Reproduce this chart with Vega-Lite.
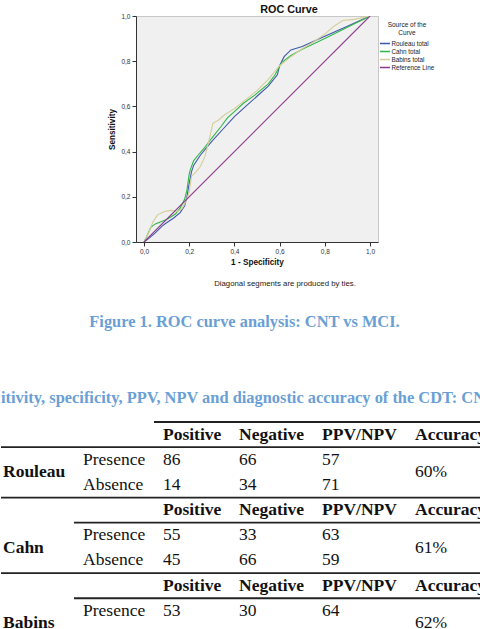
{
  "$schema": "https://vega.github.io/schema/vega-lite/v6.json",
  "padding": 0,
  "spacing": 0,
  "bounds": "full",
  "resolve": {"scale": {"color": "independent"}, "legend": {"color": "independent"}},
  "config": {"view": {"stroke": null}, "font": "Liberation Sans"},
  "datasets": {
    "roc": [
      {"curve": "Rouleau total", "fpr": 0, "tpr": 0},
      {"curve": "Rouleau total", "fpr": 0.02, "tpr": 0.015},
      {"curve": "Rouleau total", "fpr": 0.05, "tpr": 0.04},
      {"curve": "Rouleau total", "fpr": 0.08, "tpr": 0.07},
      {"curve": "Rouleau total", "fpr": 0.1, "tpr": 0.085},
      {"curve": "Rouleau total", "fpr": 0.13, "tpr": 0.105},
      {"curve": "Rouleau total", "fpr": 0.16, "tpr": 0.13},
      {"curve": "Rouleau total", "fpr": 0.18, "tpr": 0.16},
      {"curve": "Rouleau total", "fpr": 0.19, "tpr": 0.2},
      {"curve": "Rouleau total", "fpr": 0.2, "tpr": 0.26},
      {"curve": "Rouleau total", "fpr": 0.21, "tpr": 0.31},
      {"curve": "Rouleau total", "fpr": 0.22, "tpr": 0.34},
      {"curve": "Rouleau total", "fpr": 0.25, "tpr": 0.385},
      {"curve": "Rouleau total", "fpr": 0.3, "tpr": 0.445},
      {"curve": "Rouleau total", "fpr": 0.35, "tpr": 0.5},
      {"curve": "Rouleau total", "fpr": 0.4, "tpr": 0.555},
      {"curve": "Rouleau total", "fpr": 0.45, "tpr": 0.6},
      {"curve": "Rouleau total", "fpr": 0.5, "tpr": 0.645},
      {"curve": "Rouleau total", "fpr": 0.55, "tpr": 0.69},
      {"curve": "Rouleau total", "fpr": 0.59, "tpr": 0.74},
      {"curve": "Rouleau total", "fpr": 0.6, "tpr": 0.78},
      {"curve": "Rouleau total", "fpr": 0.62, "tpr": 0.82},
      {"curve": "Rouleau total", "fpr": 0.65, "tpr": 0.85},
      {"curve": "Rouleau total", "fpr": 0.7, "tpr": 0.865},
      {"curve": "Rouleau total", "fpr": 0.8, "tpr": 0.91},
      {"curve": "Rouleau total", "fpr": 0.9, "tpr": 0.955},
      {"curve": "Rouleau total", "fpr": 1, "tpr": 1},
      {"curve": "Cahn total", "fpr": 0, "tpr": 0},
      {"curve": "Cahn total", "fpr": 0.01, "tpr": 0.02},
      {"curve": "Cahn total", "fpr": 0.03, "tpr": 0.065},
      {"curve": "Cahn total", "fpr": 0.05, "tpr": 0.08},
      {"curve": "Cahn total", "fpr": 0.075, "tpr": 0.09},
      {"curve": "Cahn total", "fpr": 0.1, "tpr": 0.1},
      {"curve": "Cahn total", "fpr": 0.12, "tpr": 0.112},
      {"curve": "Cahn total", "fpr": 0.14, "tpr": 0.125},
      {"curve": "Cahn total", "fpr": 0.16, "tpr": 0.15},
      {"curve": "Cahn total", "fpr": 0.18, "tpr": 0.19},
      {"curve": "Cahn total", "fpr": 0.19, "tpr": 0.23},
      {"curve": "Cahn total", "fpr": 0.2, "tpr": 0.3},
      {"curve": "Cahn total", "fpr": 0.205, "tpr": 0.32},
      {"curve": "Cahn total", "fpr": 0.22, "tpr": 0.36},
      {"curve": "Cahn total", "fpr": 0.24, "tpr": 0.385},
      {"curve": "Cahn total", "fpr": 0.27, "tpr": 0.42},
      {"curve": "Cahn total", "fpr": 0.3, "tpr": 0.46},
      {"curve": "Cahn total", "fpr": 0.34, "tpr": 0.51},
      {"curve": "Cahn total", "fpr": 0.37, "tpr": 0.55},
      {"curve": "Cahn total", "fpr": 0.4, "tpr": 0.577},
      {"curve": "Cahn total", "fpr": 0.44, "tpr": 0.614},
      {"curve": "Cahn total", "fpr": 0.49, "tpr": 0.65},
      {"curve": "Cahn total", "fpr": 0.55, "tpr": 0.7},
      {"curve": "Cahn total", "fpr": 0.58, "tpr": 0.74},
      {"curve": "Cahn total", "fpr": 0.61, "tpr": 0.795},
      {"curve": "Cahn total", "fpr": 0.65, "tpr": 0.825},
      {"curve": "Cahn total", "fpr": 0.7, "tpr": 0.853},
      {"curve": "Cahn total", "fpr": 0.8, "tpr": 0.9},
      {"curve": "Cahn total", "fpr": 0.9, "tpr": 0.95},
      {"curve": "Cahn total", "fpr": 1, "tpr": 1},
      {"curve": "Babins total", "fpr": 0, "tpr": 0},
      {"curve": "Babins total", "fpr": 0.02, "tpr": 0.04},
      {"curve": "Babins total", "fpr": 0.04, "tpr": 0.09},
      {"curve": "Babins total", "fpr": 0.06, "tpr": 0.12},
      {"curve": "Babins total", "fpr": 0.09, "tpr": 0.135},
      {"curve": "Babins total", "fpr": 0.12, "tpr": 0.14},
      {"curve": "Babins total", "fpr": 0.15, "tpr": 0.135},
      {"curve": "Babins total", "fpr": 0.17, "tpr": 0.15},
      {"curve": "Babins total", "fpr": 0.185, "tpr": 0.18},
      {"curve": "Babins total", "fpr": 0.2, "tpr": 0.22},
      {"curve": "Babins total", "fpr": 0.21, "tpr": 0.29},
      {"curve": "Babins total", "fpr": 0.23, "tpr": 0.31},
      {"curve": "Babins total", "fpr": 0.25, "tpr": 0.335},
      {"curve": "Babins total", "fpr": 0.27, "tpr": 0.38},
      {"curve": "Babins total", "fpr": 0.29, "tpr": 0.46},
      {"curve": "Babins total", "fpr": 0.305, "tpr": 0.525},
      {"curve": "Babins total", "fpr": 0.33, "tpr": 0.54},
      {"curve": "Babins total", "fpr": 0.36, "tpr": 0.565},
      {"curve": "Babins total", "fpr": 0.4, "tpr": 0.59},
      {"curve": "Babins total", "fpr": 0.45, "tpr": 0.63},
      {"curve": "Babins total", "fpr": 0.5, "tpr": 0.67},
      {"curve": "Babins total", "fpr": 0.55, "tpr": 0.72},
      {"curve": "Babins total", "fpr": 0.6, "tpr": 0.78},
      {"curve": "Babins total", "fpr": 0.65, "tpr": 0.82},
      {"curve": "Babins total", "fpr": 0.7, "tpr": 0.855},
      {"curve": "Babins total", "fpr": 0.75, "tpr": 0.885},
      {"curve": "Babins total", "fpr": 0.8, "tpr": 0.92},
      {"curve": "Babins total", "fpr": 0.84, "tpr": 0.955},
      {"curve": "Babins total", "fpr": 0.88, "tpr": 0.98},
      {"curve": "Babins total", "fpr": 0.93, "tpr": 0.985},
      {"curve": "Babins total", "fpr": 1, "tpr": 1},
      {"curve": "Reference Line", "fpr": 0, "tpr": 0},
      {"curve": "Reference Line", "fpr": 1, "tpr": 1}
    ],
    "cells": [
      {"r": "H1", "c": "Positive", "t": "Positive", "b": true},
      {"r": "H1", "c": "Negative", "t": "Negative", "b": true},
      {"r": "H1", "c": "PPV/NPV", "t": "PPV/NPV", "b": true},
      {"r": "H1", "c": "Accuracy", "t": "Accuracy", "b": true},
      {"r": "M1", "c": "section", "t": "Rouleau", "b": true},
      {"r": "P1", "c": "label", "t": "Presence", "b": false},
      {"r": "P1", "c": "Positive", "t": "86", "b": false},
      {"r": "P1", "c": "Negative", "t": "66", "b": false},
      {"r": "P1", "c": "PPV/NPV", "t": "57", "b": false},
      {"r": "A1", "c": "label", "t": "Absence", "b": false},
      {"r": "A1", "c": "Positive", "t": "14", "b": false},
      {"r": "A1", "c": "Negative", "t": "34", "b": false},
      {"r": "A1", "c": "PPV/NPV", "t": "71", "b": false},
      {"r": "M1", "c": "Accuracy", "t": "60%", "b": false},
      {"r": "H2", "c": "Positive", "t": "Positive", "b": true},
      {"r": "H2", "c": "Negative", "t": "Negative", "b": true},
      {"r": "H2", "c": "PPV/NPV", "t": "PPV/NPV", "b": true},
      {"r": "H2", "c": "Accuracy", "t": "Accuracy", "b": true},
      {"r": "M2", "c": "section", "t": "Cahn", "b": true},
      {"r": "P2", "c": "label", "t": "Presence", "b": false},
      {"r": "P2", "c": "Positive", "t": "55", "b": false},
      {"r": "P2", "c": "Negative", "t": "33", "b": false},
      {"r": "P2", "c": "PPV/NPV", "t": "63", "b": false},
      {"r": "A2", "c": "label", "t": "Absence", "b": false},
      {"r": "A2", "c": "Positive", "t": "45", "b": false},
      {"r": "A2", "c": "Negative", "t": "66", "b": false},
      {"r": "A2", "c": "PPV/NPV", "t": "59", "b": false},
      {"r": "M2", "c": "Accuracy", "t": "61%", "b": false},
      {"r": "H3", "c": "Positive", "t": "Positive", "b": true},
      {"r": "H3", "c": "Negative", "t": "Negative", "b": true},
      {"r": "H3", "c": "PPV/NPV", "t": "PPV/NPV", "b": true},
      {"r": "H3", "c": "Accuracy", "t": "Accuracy", "b": true},
      {"r": "M3", "c": "section", "t": "Babins", "b": true},
      {"r": "P3", "c": "label", "t": "Presence", "b": false},
      {"r": "P3", "c": "Positive", "t": "53", "b": false},
      {"r": "P3", "c": "Negative", "t": "30", "b": false},
      {"r": "P3", "c": "PPV/NPV", "t": "64", "b": false},
      {"r": "A3", "c": "label", "t": "Absence", "b": false},
      {"r": "A3", "c": "Positive", "t": "47", "b": false},
      {"r": "A3", "c": "Negative", "t": "70", "b": false},
      {"r": "A3", "c": "PPV/NPV", "t": "60", "b": false},
      {"r": "M3", "c": "Accuracy", "t": "62%", "b": false}
    ],
    "rules": [
      {"r": "T0", "start": 2},
      {"r": "L1", "start": 0},
      {"r": "T1", "start": 0},
      {"r": "L2", "start": 1},
      {"r": "T2", "start": 0},
      {"r": "L3", "start": 1}
    ]
  },
  "vconcat": [
    {"width": 480, "height": 3, "data": {"values": []}, "mark": "point"},
    {
      "hconcat": [
        {"width": 135, "height": 226, "data": {"values": []}, "mark": "point"},
        {
          "width": 242,
          "height": 226,
          "view": {"fill": "#f0f0f0", "stroke": "#c8c8c8"},
          "title": {"text": "ROC Curve", "font": "Liberation Sans", "fontSize": 10.8, "fontWeight": "bold", "color": "#111111", "anchor": "middle", "frame": "group", "dx": 32, "offset": -2},
          "data": {"name": "roc"},
          "mark": {"type": "line", "strokeWidth": 1.1, "clip": true},
          "encoding": {
            "x": {
              "field": "fpr", "type": "quantitative",
              "scale": {"domain": [-0.0354, 1.0354], "nice": false, "zero": false},
              "axis": {"values": [0, 0.2, 0.4, 0.6, 0.8, 1], "labelExpr": "replace(format(datum.value, '.1f'), '.', ',')", "title": "1 - Specificity", "grid": false, "domainColor": "#333333", "tickColor": "#333333", "tickSize": 4, "labelFontSize": 6.5, "labelColor": "#333333", "labelPadding": 2, "titleFontSize": 8.2, "titleFontWeight": "bold", "titleColor": "#111111", "titlePadding": 4}
            },
            "y": {
              "field": "tpr", "type": "quantitative",
              "scale": {"domain": [0, 1], "nice": false, "zero": false},
              "axis": {"values": [0, 0.2, 0.4, 0.6, 0.8, 1], "labelExpr": "replace(format(datum.value, '.1f'), '.', ',')", "title": "Sensitivity", "grid": false, "domainColor": "#333333", "tickColor": "#333333", "tickSize": 4, "labelFontSize": 6.5, "labelColor": "#333333", "labelPadding": 2, "titleFontSize": 8.2, "titleFontWeight": "bold", "titleColor": "#111111", "titlePadding": 4}
            },
            "color": {
              "field": "curve", "type": "nominal",
              "scale": {"domain": ["Rouleau total", "Cahn total", "Babins total", "Reference Line"], "range": ["#3e58ac", "#2eb848", "#d3ce97", "#8a3a8c"]},
              "legend": {"title": ["Source of the", "Curve"], "orient": "right", "offset": -5, "padding": 6, "titleFontSize": 6.5, "titleFontWeight": "normal", "titleColor": "#222222", "titleAlign": "center", "titleAnchor": "middle", "titleLineHeight": 8, "titlePadding": 3, "labelFontSize": 6.3, "labelColor": "#222222", "labelOffset": 0.5, "symbolType": "stroke", "symbolSize": 100, "symbolStrokeWidth": 1.3, "clipHeight": 8, "rowPadding": 0}
            }
          }
        },
        {"width": 103, "height": 226, "data": {"values": []}, "mark": "point"}
      ],
      "spacing": 0,
      "bounds": "flush",
      "resolve": {"scale": {"color": "independent"}, "legend": {"color": "independent"}}
    },
    {
      "width": 480, "height": 34,
      "data": {"values": [{"t": "Diagonal segments are produced by ties."}]},
      "mark": {"type": "text", "font": "Liberation Sans", "fontSize": 7.8, "color": "#222222", "dx": 44},
      "encoding": {"text": {"field": "t", "type": "nominal"}}
    },
    {
      "width": 480, "height": 42,
      "data": {"values": [{"t": "Figure 1. ROC curve analysis: CNT vs MCI."}]},
      "mark": {"type": "text", "font": "Liberation Serif", "fontSize": 16.4, "fontWeight": "bold", "color": "#6a9fd6", "dx": 3.5},
      "encoding": {"text": {"field": "t", "type": "nominal"}}
    },
    {"width": 480, "height": 43, "data": {"values": []}, "mark": "point"},
    {
      "width": 480, "height": 24,
      "data": {"values": [{"t": "itivity, specificity, PPV, NPV and diagnostic accuracy of the CDT: CN"}]},
      "mark": {"type": "text", "font": "Liberation Serif", "fontSize": 16.4, "fontWeight": "bold", "color": "#6a9fd6", "dx": 2, "clip": true},
      "encoding": {"text": {"field": "t", "type": "nominal"}}
    },
    {
      "hconcat": [
        {
          "width": 73, "height": 220,
          "layer": [
            {"data": {"name": "rules"}, "transform": [{"filter": "datum.start <= 0"}], "mark": {"type": "rule", "strokeWidth": 1.8, "color": "#222222"}, "encoding": {"y": {"field": "r", "type": "nominal", "axis": null, "scale": {"type": "point", "domain": ["T0","H1","L1","P1","M1","A1","T1","H2","L2","P2","M2","A2","T2","H3","L3","P3","M3","A3"], "range": [12, 226], "padding": 0}}}},
            {"data": {"name": "cells"}, "transform": [{"filter": "datum.c === 'section' && datum.b"}], "mark": {"type": "text", "align": "left", "dx": 2, "font": "Liberation Serif", "fontSize": 17.5, "fontWeight": "bold", "color": "#111111", "clip": true}, "encoding": {"x": {"field": "c", "type": "nominal", "axis": null, "scale": {"type": "band", "paddingInner": 0, "paddingOuter": 0}, "bandPosition": 0}, "y": {"field": "r", "type": "nominal", "axis": null, "scale": {"type": "point", "domain": ["T0","H1","L1","P1","M1","A1","T1","H2","L2","P2","M2","A2","T2","H3","L3","P3","M3","A3"], "range": [12, 226], "padding": 0}}, "text": {"field": "t", "type": "nominal"}}}
          ]
        },
        {
          "width": 80, "height": 220,
          "layer": [
            {"data": {"name": "rules"}, "transform": [{"filter": "datum.start <= 1"}], "mark": {"type": "rule", "strokeWidth": 1.8, "color": "#222222"}, "encoding": {"y": {"field": "r", "type": "nominal", "axis": null, "scale": {"type": "point", "domain": ["T0","H1","L1","P1","M1","A1","T1","H2","L2","P2","M2","A2","T2","H3","L3","P3","M3","A3"], "range": [12, 226], "padding": 0}}}},
            {"data": {"name": "cells"}, "transform": [{"filter": "datum.c === 'label' && !datum.b"}], "mark": {"type": "text", "align": "left", "dx": 9, "font": "Liberation Serif", "fontSize": 17.5, "color": "#111111", "clip": true}, "encoding": {"x": {"field": "c", "type": "nominal", "axis": null, "scale": {"type": "band", "paddingInner": 0, "paddingOuter": 0}, "bandPosition": 0}, "y": {"field": "r", "type": "nominal", "axis": null, "scale": {"type": "point", "domain": ["T0","H1","L1","P1","M1","A1","T1","H2","L2","P2","M2","A2","T2","H3","L3","P3","M3","A3"], "range": [12, 226], "padding": 0}}, "text": {"field": "t", "type": "nominal"}}}
          ]
        },
        {
          "width": 76, "height": 220,
          "layer": [
            {"data": {"name": "rules"}, "transform": [{"filter": "datum.start <= 2"}], "mark": {"type": "rule", "strokeWidth": 1.8, "color": "#222222"}, "encoding": {"y": {"field": "r", "type": "nominal", "axis": null, "scale": {"type": "point", "domain": ["T0","H1","L1","P1","M1","A1","T1","H2","L2","P2","M2","A2","T2","H3","L3","P3","M3","A3"], "range": [12, 226], "padding": 0}}}},
            {"data": {"name": "cells"}, "transform": [{"filter": "datum.c === 'Positive' && !datum.b"}], "mark": {"type": "text", "align": "left", "dx": 9, "font": "Liberation Serif", "fontSize": 17.5, "color": "#111111", "clip": true}, "encoding": {"x": {"field": "c", "type": "nominal", "axis": null, "scale": {"type": "band", "paddingInner": 0, "paddingOuter": 0}, "bandPosition": 0}, "y": {"field": "r", "type": "nominal", "axis": null, "scale": {"type": "point", "domain": ["T0","H1","L1","P1","M1","A1","T1","H2","L2","P2","M2","A2","T2","H3","L3","P3","M3","A3"], "range": [12, 226], "padding": 0}}, "text": {"field": "t", "type": "nominal"}}},
            {"data": {"name": "cells"}, "transform": [{"filter": "datum.c === 'Positive' && datum.b"}], "mark": {"type": "text", "align": "left", "dx": 9, "font": "Liberation Serif", "fontSize": 17.5, "fontWeight": "bold", "color": "#111111", "clip": true}, "encoding": {"x": {"field": "c", "type": "nominal", "axis": null, "scale": {"type": "band", "paddingInner": 0, "paddingOuter": 0}, "bandPosition": 0}, "y": {"field": "r", "type": "nominal", "axis": null, "scale": {"type": "point", "domain": ["T0","H1","L1","P1","M1","A1","T1","H2","L2","P2","M2","A2","T2","H3","L3","P3","M3","A3"], "range": [12, 226], "padding": 0}}, "text": {"field": "t", "type": "nominal"}}}
          ]
        },
        {
          "width": 83, "height": 220,
          "layer": [
            {"data": {"name": "rules"}, "transform": [{"filter": "datum.start <= 3"}], "mark": {"type": "rule", "strokeWidth": 1.8, "color": "#222222"}, "encoding": {"y": {"field": "r", "type": "nominal", "axis": null, "scale": {"type": "point", "domain": ["T0","H1","L1","P1","M1","A1","T1","H2","L2","P2","M2","A2","T2","H3","L3","P3","M3","A3"], "range": [12, 226], "padding": 0}}}},
            {"data": {"name": "cells"}, "transform": [{"filter": "datum.c === 'Negative' && !datum.b"}], "mark": {"type": "text", "align": "left", "dx": 9, "font": "Liberation Serif", "fontSize": 17.5, "color": "#111111", "clip": true}, "encoding": {"x": {"field": "c", "type": "nominal", "axis": null, "scale": {"type": "band", "paddingInner": 0, "paddingOuter": 0}, "bandPosition": 0}, "y": {"field": "r", "type": "nominal", "axis": null, "scale": {"type": "point", "domain": ["T0","H1","L1","P1","M1","A1","T1","H2","L2","P2","M2","A2","T2","H3","L3","P3","M3","A3"], "range": [12, 226], "padding": 0}}, "text": {"field": "t", "type": "nominal"}}},
            {"data": {"name": "cells"}, "transform": [{"filter": "datum.c === 'Negative' && datum.b"}], "mark": {"type": "text", "align": "left", "dx": 9, "font": "Liberation Serif", "fontSize": 17.5, "fontWeight": "bold", "color": "#111111", "clip": true}, "encoding": {"x": {"field": "c", "type": "nominal", "axis": null, "scale": {"type": "band", "paddingInner": 0, "paddingOuter": 0}, "bandPosition": 0}, "y": {"field": "r", "type": "nominal", "axis": null, "scale": {"type": "point", "domain": ["T0","H1","L1","P1","M1","A1","T1","H2","L2","P2","M2","A2","T2","H3","L3","P3","M3","A3"], "range": [12, 226], "padding": 0}}, "text": {"field": "t", "type": "nominal"}}}
          ]
        },
        {
          "width": 93, "height": 220,
          "layer": [
            {"data": {"name": "rules"}, "transform": [{"filter": "datum.start <= 4"}], "mark": {"type": "rule", "strokeWidth": 1.8, "color": "#222222"}, "encoding": {"y": {"field": "r", "type": "nominal", "axis": null, "scale": {"type": "point", "domain": ["T0","H1","L1","P1","M1","A1","T1","H2","L2","P2","M2","A2","T2","H3","L3","P3","M3","A3"], "range": [12, 226], "padding": 0}}}},
            {"data": {"name": "cells"}, "transform": [{"filter": "datum.c === 'PPV/NPV' && !datum.b"}], "mark": {"type": "text", "align": "left", "dx": 9, "font": "Liberation Serif", "fontSize": 17.5, "color": "#111111", "clip": true}, "encoding": {"x": {"field": "c", "type": "nominal", "axis": null, "scale": {"type": "band", "paddingInner": 0, "paddingOuter": 0}, "bandPosition": 0}, "y": {"field": "r", "type": "nominal", "axis": null, "scale": {"type": "point", "domain": ["T0","H1","L1","P1","M1","A1","T1","H2","L2","P2","M2","A2","T2","H3","L3","P3","M3","A3"], "range": [12, 226], "padding": 0}}, "text": {"field": "t", "type": "nominal"}}},
            {"data": {"name": "cells"}, "transform": [{"filter": "datum.c === 'PPV/NPV' && datum.b"}], "mark": {"type": "text", "align": "left", "dx": 9, "font": "Liberation Serif", "fontSize": 17.5, "fontWeight": "bold", "color": "#111111", "clip": true}, "encoding": {"x": {"field": "c", "type": "nominal", "axis": null, "scale": {"type": "band", "paddingInner": 0, "paddingOuter": 0}, "bandPosition": 0}, "y": {"field": "r", "type": "nominal", "axis": null, "scale": {"type": "point", "domain": ["T0","H1","L1","P1","M1","A1","T1","H2","L2","P2","M2","A2","T2","H3","L3","P3","M3","A3"], "range": [12, 226], "padding": 0}}, "text": {"field": "t", "type": "nominal"}}}
          ]
        },
        {
          "width": 75, "height": 220,
          "layer": [
            {"data": {"name": "rules"}, "transform": [{"filter": "datum.start <= 5"}], "mark": {"type": "rule", "strokeWidth": 1.8, "color": "#222222"}, "encoding": {"y": {"field": "r", "type": "nominal", "axis": null, "scale": {"type": "point", "domain": ["T0","H1","L1","P1","M1","A1","T1","H2","L2","P2","M2","A2","T2","H3","L3","P3","M3","A3"], "range": [12, 226], "padding": 0}}}},
            {"data": {"name": "cells"}, "transform": [{"filter": "datum.c === 'Accuracy' && !datum.b"}], "mark": {"type": "text", "align": "left", "dx": 9, "font": "Liberation Serif", "fontSize": 17.5, "color": "#111111", "clip": true}, "encoding": {"x": {"field": "c", "type": "nominal", "axis": null, "scale": {"type": "band", "paddingInner": 0, "paddingOuter": 0}, "bandPosition": 0}, "y": {"field": "r", "type": "nominal", "axis": null, "scale": {"type": "point", "domain": ["T0","H1","L1","P1","M1","A1","T1","H2","L2","P2","M2","A2","T2","H3","L3","P3","M3","A3"], "range": [12, 226], "padding": 0}}, "text": {"field": "t", "type": "nominal"}}},
            {"data": {"name": "cells"}, "transform": [{"filter": "datum.c === 'Accuracy' && datum.b"}], "mark": {"type": "text", "align": "left", "dx": 9, "font": "Liberation Serif", "fontSize": 17.5, "fontWeight": "bold", "color": "#111111", "clip": true}, "encoding": {"x": {"field": "c", "type": "nominal", "axis": null, "scale": {"type": "band", "paddingInner": 0, "paddingOuter": 0}, "bandPosition": 0}, "y": {"field": "r", "type": "nominal", "axis": null, "scale": {"type": "point", "domain": ["T0","H1","L1","P1","M1","A1","T1","H2","L2","P2","M2","A2","T2","H3","L3","P3","M3","A3"], "range": [12, 226], "padding": 0}}, "text": {"field": "t", "type": "nominal"}}}
          ]
        }
      ],
      "spacing": 0,
      "bounds": "flush"
    }
  ]
}
